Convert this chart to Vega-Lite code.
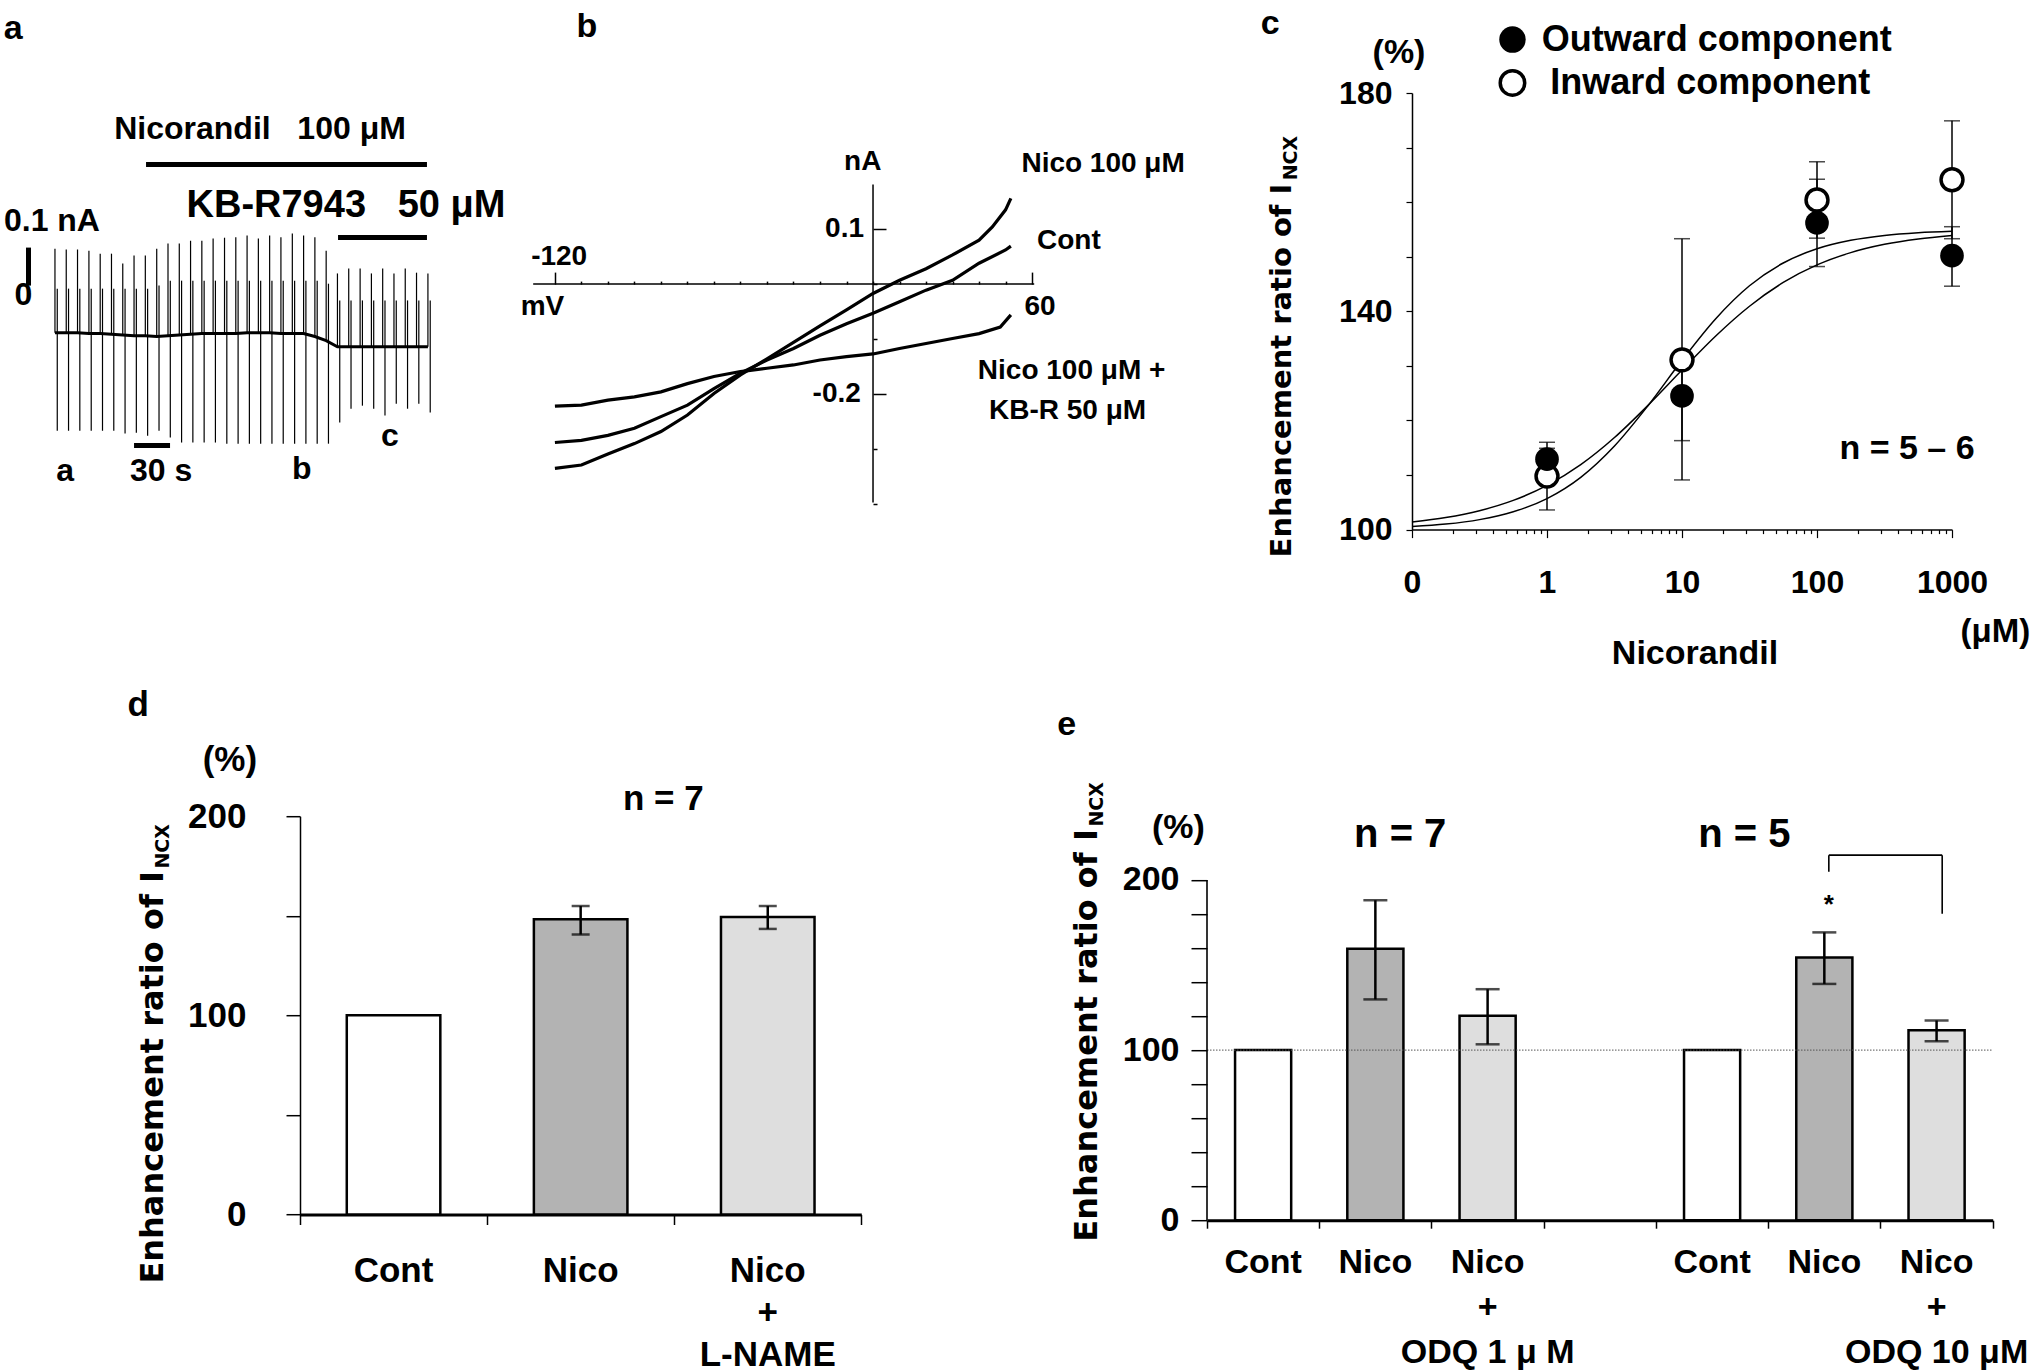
{
"$schema": "https://vega.github.io/schema/vega-lite/v6.json",
"background": "white",
"padding": {"left": 0, "top": 7, "right": 0, "bottom": 0},
"bounds": "flush",
"spacing": 723.2,
"config": {
  "view": {"stroke": null},
  "font": "Liberation Sans",
  "axis": {"labelFont": "Liberation Sans", "labelFontWeight": "bold", "labelColor": "black", "domainColor": "black", "tickColor": "black", "grid": false, "labelOverlap": false, "labelFlush": false, "labelBound": false, "labelLimit": 0},
  "text": {"font": "Liberation Sans", "fontWeight": "bold", "color": "black"}
},
"datasets": {
  "sweeps": [
    {"t":45.8,"hi":0.097,"lo":-0.382,"base":-0.124,"mid":-0.008},
    {"t":55.2,"hi":0.095,"lo":-0.382,"base":-0.124,"mid":-0.008},
    {"t":64.6,"hi":0.095,"lo":-0.382,"base":-0.124,"mid":-0.008},
    {"t":74.1,"hi":0.092,"lo":-0.382,"base":-0.126,"mid":-0.008},
    {"t":83.5,"hi":0.084,"lo":-0.382,"base":-0.126,"mid":-0.008},
    {"t":92.9,"hi":0.084,"lo":-0.382,"base":-0.128,"mid":-0.008},
    {"t":102.3,"hi":0.058,"lo":-0.389,"base":-0.130,"mid":-0.008},
    {"t":111.7,"hi":0.079,"lo":-0.387,"base":-0.132,"mid":-0.008},
    {"t":121.1,"hi":0.079,"lo":-0.395,"base":-0.132,"mid":-0.008},
    {"t":130.6,"hi":0.097,"lo":-0.382,"base":-0.134,"mid":0.0},
    {"t":140.0,"hi":0.111,"lo":-0.400,"base":-0.132,"mid":0.013},
    {"t":149.4,"hi":0.111,"lo":-0.413,"base":-0.130,"mid":0.013},
    {"t":158.8,"hi":0.118,"lo":-0.413,"base":-0.128,"mid":0.013},
    {"t":168.2,"hi":0.118,"lo":-0.413,"base":-0.126,"mid":0.013},
    {"t":177.6,"hi":0.124,"lo":-0.413,"base":-0.126,"mid":0.013},
    {"t":187.1,"hi":0.126,"lo":-0.416,"base":-0.126,"mid":0.013},
    {"t":196.5,"hi":0.127,"lo":-0.416,"base":-0.126,"mid":0.013},
    {"t":205.9,"hi":0.132,"lo":-0.416,"base":-0.124,"mid":0.013},
    {"t":215.3,"hi":0.124,"lo":-0.416,"base":-0.124,"mid":0.013},
    {"t":224.7,"hi":0.132,"lo":-0.416,"base":-0.124,"mid":0.013},
    {"t":234.1,"hi":0.127,"lo":-0.416,"base":-0.126,"mid":0.013},
    {"t":243.6,"hi":0.137,"lo":-0.416,"base":-0.126,"mid":0.013},
    {"t":253.0,"hi":0.132,"lo":-0.416,"base":-0.126,"mid":0.013},
    {"t":262.4,"hi":0.127,"lo":-0.416,"base":-0.134,"mid":0.013},
    {"t":271.8,"hi":0.092,"lo":-0.416,"base":-0.145,"mid":0.005},
    {"t":281.2,"hi":0.032,"lo":-0.360,"base":-0.161,"mid":-0.039},
    {"t":290.6,"hi":0.045,"lo":-0.324,"base":-0.161,"mid":-0.039},
    {"t":300.1,"hi":0.045,"lo":-0.316,"base":-0.161,"mid":-0.039},
    {"t":309.5,"hi":0.032,"lo":-0.324,"base":-0.161,"mid":-0.039},
    {"t":318.9,"hi":0.045,"lo":-0.342,"base":-0.161,"mid":-0.039},
    {"t":328.3,"hi":0.032,"lo":-0.311,"base":-0.161,"mid":-0.039},
    {"t":337.7,"hi":0.045,"lo":-0.324,"base":-0.161,"mid":-0.039},
    {"t":347.1,"hi":0.034,"lo":-0.311,"base":-0.161,"mid":-0.039},
    {"t":356.6,"hi":0.032,"lo":-0.334,"base":-0.161,"mid":-0.039}
  ],
  "iv": [
    {"s":"Nico","mV":-120,"nA":-0.335},{"s":"Nico","mV":-110,"nA":-0.329},{"s":"Nico","mV":-100,"nA":-0.309},{"s":"Nico","mV":-90,"nA":-0.290},{"s":"Nico","mV":-80,"nA":-0.268},{"s":"Nico","mV":-70,"nA":-0.238},{"s":"Nico","mV":-60,"nA":-0.199},{"s":"Nico","mV":-50,"nA":-0.165},{"s":"Nico","mV":-40,"nA":-0.136},{"s":"Nico","mV":-30,"nA":-0.106},{"s":"Nico","mV":-20,"nA":-0.076},{"s":"Nico","mV":-10,"nA":-0.047},{"s":"Nico","mV":0,"nA":-0.017},{"s":"Nico","mV":10,"nA":0.007},{"s":"Nico","mV":20,"nA":0.028},{"s":"Nico","mV":30,"nA":0.053},{"s":"Nico","mV":40,"nA":0.080},{"s":"Nico","mV":45,"nA":0.104},{"s":"Nico","mV":50,"nA":0.135},{"s":"Nico","mV":52,"nA":0.156},
    {"s":"Cont","mV":-120,"nA":-0.288},{"s":"Cont","mV":-110,"nA":-0.284},{"s":"Cont","mV":-100,"nA":-0.275},{"s":"Cont","mV":-90,"nA":-0.262},{"s":"Cont","mV":-80,"nA":-0.241},{"s":"Cont","mV":-70,"nA":-0.220},{"s":"Cont","mV":-60,"nA":-0.190},{"s":"Cont","mV":-50,"nA":-0.162},{"s":"Cont","mV":-40,"nA":-0.138},{"s":"Cont","mV":-30,"nA":-0.117},{"s":"Cont","mV":-20,"nA":-0.093},{"s":"Cont","mV":-10,"nA":-0.072},{"s":"Cont","mV":0,"nA":-0.053},{"s":"Cont","mV":10,"nA":-0.032},{"s":"Cont","mV":20,"nA":-0.011},{"s":"Cont","mV":30,"nA":0.007},{"s":"Cont","mV":40,"nA":0.038},{"s":"Cont","mV":50,"nA":0.062},{"s":"Cont","mV":52,"nA":0.069},
    {"s":"KBR","mV":-120,"nA":-0.222},{"s":"KBR","mV":-110,"nA":-0.220},{"s":"KBR","mV":-100,"nA":-0.211},{"s":"KBR","mV":-90,"nA":-0.205},{"s":"KBR","mV":-80,"nA":-0.196},{"s":"KBR","mV":-70,"nA":-0.181},{"s":"KBR","mV":-60,"nA":-0.168},{"s":"KBR","mV":-50,"nA":-0.159},{"s":"KBR","mV":-40,"nA":-0.153},{"s":"KBR","mV":-30,"nA":-0.147},{"s":"KBR","mV":-20,"nA":-0.138},{"s":"KBR","mV":-10,"nA":-0.132},{"s":"KBR","mV":0,"nA":-0.127},{"s":"KBR","mV":10,"nA":-0.117},{"s":"KBR","mV":20,"nA":-0.108},{"s":"KBR","mV":30,"nA":-0.099},{"s":"KBR","mV":40,"nA":-0.090},{"s":"KBR","mV":48,"nA":-0.078},{"s":"KBR","mV":52,"nA":-0.056}
  ],
  "fits": [
    {"fit":"A","conc":0.1,"v":100.56},{"fit":"A","conc":0.1778,"v":101.01},{"fit":"A","conc":0.3162,"v":101.83},{"fit":"A","conc":0.5623,"v":103.26},{"fit":"A","conc":1,"v":105.68},{"fit":"A","conc":1.778,"v":109.58},{"fit":"A","conc":3.162,"v":115.32},{"fit":"A","conc":5.623,"v":122.76},{"fit":"A","conc":10,"v":131.02},{"fit":"A","conc":17.78,"v":138.65},{"fit":"A","conc":31.62,"v":144.68},{"fit":"A","conc":56.23,"v":148.85},{"fit":"A","conc":100,"v":151.45},{"fit":"A","conc":177.8,"v":153.0},{"fit":"A","conc":316.2,"v":153.89},{"fit":"A","conc":562.3,"v":154.39},{"fit":"A","conc":1000,"v":154.66},
    {"fit":"B","conc":0.1,"v":101.41},{"fit":"B","conc":0.1778,"v":102.22},{"fit":"B","conc":0.3162,"v":103.47},{"fit":"B","conc":0.5623,"v":105.35},{"fit":"B","conc":1,"v":108.09},{"fit":"B","conc":1.778,"v":111.9},{"fit":"B","conc":3.162,"v":116.87},{"fit":"B","conc":5.623,"v":122.81},{"fit":"B","conc":10,"v":129.24},{"fit":"B","conc":17.78,"v":135.48},{"fit":"B","conc":31.62,"v":140.93},{"fit":"B","conc":56.23,"v":145.28},{"fit":"B","conc":100,"v":148.5},{"fit":"B","conc":177.8,"v":150.75},{"fit":"B","conc":316.2,"v":152.27},{"fit":"B","conc":562.3,"v":153.26},{"fit":"B","conc":1000,"v":153.9}
  ],
  "cpts": [
    {"series":"Outward","conc":1,"v":112.9,"lo":110.9,"hi":114.9},
    {"series":"Outward","conc":10,"v":124.5,"lo":116.3,"hi":132.7},
    {"series":"Outward","conc":100,"v":156.2,"lo":148.2,"hi":164.2},
    {"series":"Outward","conc":1000,"v":150.2,"lo":144.6,"hi":155.5},
    {"series":"Inward","conc":1,"v":109.8,"lo":103.6,"hi":116.0},
    {"series":"Inward","conc":10,"v":131.1,"lo":109.1,"hi":153.3},
    {"series":"Inward","conc":100,"v":160.4,"lo":153.4,"hi":167.4},
    {"series":"Inward","conc":1000,"v":164.1,"lo":153.3,"hi":174.9}
  ],
  "dbars": [
    {"cat":"Cont","kind":"Cont","v":100,"lo":100,"hi":100},
    {"cat":"Nico","kind":"Nico","v":148.3,"lo":140.6,"hi":154.9},
    {"cat":"Nico/+/L-NAME","kind":"Nico+","v":149.4,"lo":143.4,"hi":154.9}
  ],
  "ebars": [
    {"cat":"Cont#1","kind":"Cont","v":100,"lo":100,"hi":100},
    {"cat":"Nico#1","kind":"Nico","v":159.6,"lo":129.8,"hi":188.1},
    {"cat":"Nico/+/ODQ 1 μ M#1","kind":"Nico+","v":120.2,"lo":103.4,"hi":135.8},
    {"cat":"Cont#2","kind":"Cont","v":100,"lo":100,"hi":100},
    {"cat":"Nico#2","kind":"Nico","v":154.4,"lo":138.9,"hi":169.2},
    {"cat":"Nico/+/ODQ 10 μM#2","kind":"Nico+","v":111.7,"lo":105.2,"hi":117.4}
  ]
},
"vconcat": [
{
 "hconcat": [
  {
   "width": 520, "height": 436.6,
   "layer": [
    {"data": {"name": "sweeps"}, "mark": {"type": "rule", "color": "#000000", "strokeWidth": 1.2},
     "encoding": {
       "x": {"field": "t", "type": "quantitative", "scale": {"domain": [0, 433.33], "nice": false, "zero": false}, "axis": null},
       "y": {"field": "hi", "type": "quantitative", "scale": {"domain": [-0.6421, 0.5068], "nice": false, "zero": false}, "axis": null},
       "y2": {"field": "base"}}},
    {"data": {"name": "sweeps"}, "mark": {"type": "rule", "color": "#000000", "strokeWidth": 1.2, "xOffset": 2.3},
     "encoding": {
       "x": {"field": "t", "type": "quantitative", "scale": {"domain": [0, 433.33], "nice": false, "zero": false}, "axis": null},
       "y": {"field": "mid", "type": "quantitative", "scale": {"domain": [-0.6421, 0.5068], "nice": false, "zero": false}, "axis": null},
       "y2": {"field": "lo"}}},
    {"data": {"name": "sweeps"}, "mark": {"type": "line", "color": "black", "strokeWidth": 3},
     "encoding": {
       "x": {"field": "t", "type": "quantitative", "scale": {"domain": [0, 433.33], "nice": false, "zero": false}, "axis": null},
       "y": {"field": "base", "type": "quantitative", "scale": {"domain": [-0.6421, 0.5068], "nice": false, "zero": false}, "axis": null}}},
    {"data": {"values": [
       {"what":"Nicorandil 100 μM","t1":121.7,"t2":355.8,"v":0.3184},
       {"what":"KB-R7943 50 μM","t1":281.7,"t2":355.8,"v":0.1263},
       {"what":"30 s","t1":111.7,"t2":141.7,"v":-0.421}]},
     "mark": {"type": "rule", "color": "black", "strokeWidth": 5},
     "encoding": {
       "x": {"field": "t1", "type": "quantitative", "scale": {"domain": [0, 433.33], "nice": false, "zero": false}, "axis": null},
       "x2": {"field": "t2"},
       "y": {"field": "v", "type": "quantitative", "scale": {"domain": [-0.6421, 0.5068], "nice": false, "zero": false}, "axis": null}}},
    {"data": {"values": [{"what":"0.1 nA","t":23.75,"v1":0,"v2":0.1}]},
     "mark": {"type": "rule", "color": "black", "strokeWidth": 5},
     "encoding": {
       "x": {"field": "t", "type": "quantitative", "scale": {"domain": [0, 433.33], "nice": false, "zero": false}, "axis": null},
       "y": {"field": "v1", "type": "quantitative", "scale": {"domain": [-0.6421, 0.5068], "nice": false, "zero": false}, "axis": null},
       "y2": {"field": "v2"}}},
    {"data": {"values": [{"t":11.1,"v":0.6755,"label":"a"}]},
     "mark": {"type": "text", "fontSize": 34, "align": "center", "baseline": "middle"},
     "encoding": {
       "x": {"field": "t", "type": "quantitative", "scale": {"domain": [0, 433.33], "nice": false, "zero": false}, "axis": null},
       "y": {"field": "v", "type": "quantitative", "scale": {"domain": [-0.6421, 0.5068], "nice": false, "zero": false}, "axis": null},
       "text": {"field": "label"}}},
    {"data": {"values": [
       {"t":216.7,"v":0.4132,"label":"Nicorandil\u00a0\u00a0\u00a0100 μM"},
       {"t":43.3,"v":0.171,"label":"0.1 nA"},
       {"t":19.4,"v":-0.026,"label":"0"},
       {"t":54.2,"v":-0.487,"label":"a"},
       {"t":134.2,"v":-0.487,"label":"30 s"},
       {"t":251.4,"v":-0.482,"label":"b"},
       {"t":325,"v":-0.395,"label":"c"}]},
     "mark": {"type": "text", "fontSize": 32, "align": "center", "baseline": "middle"},
     "encoding": {
       "x": {"field": "t", "type": "quantitative", "scale": {"domain": [0, 433.33], "nice": false, "zero": false}, "axis": null},
       "y": {"field": "v", "type": "quantitative", "scale": {"domain": [-0.6421, 0.5068], "nice": false, "zero": false}, "axis": null},
       "text": {"field": "label"}}},
    {"data": {"values": [{"t":288.3,"v":0.2087,"label":"KB-R7943\u00a0\u00a0\u00a050 μM"}]},
     "mark": {"type": "text", "fontSize": 38, "align": "center", "baseline": "middle"},
     "encoding": {
       "x": {"field": "t", "type": "quantitative", "scale": {"domain": [0, 433.33], "nice": false, "zero": false}, "axis": null},
       "y": {"field": "v", "type": "quantitative", "scale": {"domain": [-0.6421, 0.5068], "nice": false, "zero": false}, "axis": null},
       "text": {"field": "label"}}}
   ]
  },
  {
   "width": 872, "height": 436.6,
   "layer": [
    {"data": {"name": "iv"}, "mark": {"type": "line", "color": "black", "strokeWidth": 3.2},
     "encoding": {
       "x": {"field": "mV", "type": "quantitative", "scale": {"domain": [-129.4, 199.55], "nice": false, "zero": false},
             "axis": {"orient": "top", "offset": -191.1, "values": [-120,-110,-100,-90,-80,-70,-60,-50,-40,-30,-20,-10,0,10,20,30,40,50,60], "labels": false, "domain": false, "title": null, "tickWidth": 1.5,
                      "tickSize": {"condition": {"test": "datum.value == -120 || datum.value == 60", "value": 12}, "value": 3}}},
       "y": {"field": "nA", "type": "quantitative", "scale": {"domain": [-0.44636, 0.34745], "nice": false, "zero": false},
             "axis": {"orient": "right", "offset": -529, "values": [-0.4,-0.35,-0.3,-0.25,-0.2,-0.15,-0.1,-0.05,0,0.05,0.1,0.15], "labels": false, "domain": false, "title": null, "tickWidth": 1.5,
                      "tickSize": {"condition": {"test": "datum.value == 0.1 || datum.value == -0.2", "value": 13}, "value": 4}}},
       "detail": {"field": "s", "type": "nominal"}}},
    {"data": {"values": [{"x1":-128.2,"x2":60.8,"y1":0,"y2":0},{"x1":0,"x2":0,"y1":-0.397,"y2":0.181}]},
     "mark": {"type": "rule", "color": "black", "strokeWidth": 1.5},
     "encoding": {
       "x": {"field": "x1", "type": "quantitative", "scale": {"domain": [-129.4, 199.55], "nice": false, "zero": false}},
       "x2": {"field": "x2"},
       "y": {"field": "y1", "type": "quantitative", "scale": {"domain": [-0.44636, 0.34745], "nice": false, "zero": false}},
       "y2": {"field": "y2"}}},
    {"data": {"values": [{"mV":-107.9,"nA":0.467,"label":"b"}]},
     "mark": {"type": "text", "fontSize": 34, "align": "center", "baseline": "middle"},
     "encoding": {
       "x": {"field": "mV", "type": "quantitative", "scale": {"domain": [-129.4, 199.55], "nice": false, "zero": false}},
       "y": {"field": "nA", "type": "quantitative", "scale": {"domain": [-0.44636, 0.34745], "nice": false, "zero": false}},
       "text": {"field": "label"}}},
    {"data": {"values": [
       {"mV":-3.9,"nA":0.2215,"label":"nA"},
       {"mV":-118.4,"nA":0.0487,"label":"-120"},
       {"mV":-124.7,"nA":-0.0422,"label":"mV"},
       {"mV":63.0,"nA":-0.0422,"label":"60"},
       {"mV":86.8,"nA":0.2185,"label":"Nico 100 μM"},
       {"mV":73.9,"nA":0.0791,"label":"Cont"},
       {"mV":74.9,"nA":-0.1573,"label":"Nico 100 μM +"},
       {"mV":73.4,"nA":-0.230,"label":"KB-R 50 μM"}]},
     "mark": {"type": "text", "fontSize": 28, "align": "center", "baseline": "middle"},
     "encoding": {
       "x": {"field": "mV", "type": "quantitative", "scale": {"domain": [-129.4, 199.55], "nice": false, "zero": false}},
       "y": {"field": "nA", "type": "quantitative", "scale": {"domain": [-0.44636, 0.34745], "nice": false, "zero": false}},
       "text": {"field": "label"}}},
    {"data": {"values": [
       {"mV":-3.4,"nA":0.1,"label":"0.1"},
       {"mV":-4.6,"nA":-0.2,"label":"-0.2"}]},
     "mark": {"type": "text", "fontSize": 28, "align": "right", "baseline": "middle"},
     "encoding": {
       "x": {"field": "mV", "type": "quantitative", "scale": {"domain": [-129.4, 199.55], "nice": false, "zero": false}},
       "y": {"field": "nA", "type": "quantitative", "scale": {"domain": [-0.44636, 0.34745], "nice": false, "zero": false}},
       "text": {"field": "label"}}}
   ]
  },
  {
   "width": 540, "height": 436.6,
   "layer": [
    {"data": {"name": "fits"}, "mark": {"type": "line", "color": "black", "strokeWidth": 1.5, "interpolate": "monotone"},
     "encoding": {
       "x": {"field": "conc", "type": "quantitative", "scale": {"type": "log", "domain": [0.1, 1000], "nice": false},
             "axis": {"orient": "bottom", "title": null, "values": [0.1,0.2,0.3,0.4,0.5,0.6,0.7,0.8,0.9,1,2,3,4,5,6,7,8,9,10,20,30,40,50,60,70,80,90,100,200,300,400,500,600,700,800,900,1000],
                      "labelExpr": "datum.value == 0.1 ? '0' : ((datum.value == 1 || datum.value == 10 || datum.value == 100 || datum.value == 1000) ? format(datum.value, 'd') : '')",
                      "labelFontSize": 32, "labelPadding": 30, "domainWidth": 1.5, "tickWidth": 1.2,
                      "tickSize": {"condition": {"test": "datum.value == 0.1 || datum.value == 1 || datum.value == 10 || datum.value == 100 || datum.value == 1000", "value": 8}, "value": 4}}},
       "y": {"field": "v", "type": "quantitative", "scale": {"domain": [100, 180], "nice": false, "zero": false},
             "axis": {"title": null, "values": [100,110,120,130,140,150,160,170,180],
                      "labelExpr": "(datum.value == 100 || datum.value == 140 || datum.value == 180) ? datum.label : ''",
                      "labelFontSize": 32, "labelPadding": 14, "tickSize": 6, "tickWidth": 1.2, "domainWidth": 1.5}},
       "detail": {"field": "fit", "type": "nominal"}}},
    {"data": {"name": "cpts"}, "mark": {"type": "rule", "color": "black", "strokeWidth": 1.5},
     "encoding": {
       "x": {"field": "conc", "type": "quantitative", "scale": {"type": "log", "domain": [0.1, 1000], "nice": false}},
       "y": {"field": "lo", "type": "quantitative", "scale": {"domain": [100, 180], "nice": false, "zero": false}},
       "y2": {"field": "hi"}}},
    {"data": {"name": "cpts"}, "mark": {"type": "tick", "orient": "horizontal", "color": "black", "size": 16, "thickness": 1.5},
     "encoding": {
       "x": {"field": "conc", "type": "quantitative", "scale": {"type": "log", "domain": [0.1, 1000], "nice": false}},
       "y": {"field": "hi", "type": "quantitative", "scale": {"domain": [100, 180], "nice": false, "zero": false}}}},
    {"data": {"name": "cpts"}, "mark": {"type": "tick", "orient": "horizontal", "color": "black", "size": 16, "thickness": 1.5},
     "encoding": {
       "x": {"field": "conc", "type": "quantitative", "scale": {"type": "log", "domain": [0.1, 1000], "nice": false}},
       "y": {"field": "lo", "type": "quantitative", "scale": {"domain": [100, 180], "nice": false, "zero": false}}}},
    {"data": {"name": "cpts"}, "transform": [{"filter": "datum.series == 'Inward'"}],
     "mark": {"type": "point", "shape": "circle", "filled": true, "fill": "white", "stroke": "black", "strokeWidth": 3.5, "size": 480, "opacity": 1},
     "encoding": {
       "x": {"field": "conc", "type": "quantitative", "scale": {"type": "log", "domain": [0.1, 1000], "nice": false}},
       "y": {"field": "v", "type": "quantitative", "scale": {"domain": [100, 180], "nice": false, "zero": false}}}},
    {"data": {"name": "cpts"}, "transform": [{"filter": "datum.series == 'Outward'"}],
     "mark": {"type": "point", "shape": "circle", "filled": true, "fill": "black", "strokeWidth": 0, "size": 560, "opacity": 1},
     "encoding": {
       "x": {"field": "conc", "type": "quantitative", "scale": {"type": "log", "domain": [0.1, 1000], "nice": false}},
       "y": {"field": "v", "type": "quantitative", "scale": {"domain": [100, 180], "nice": false, "zero": false}}}},
    {"data": {"values": [{"series":"Outward","conc":0.555,"v":189.79}]},
     "mark": {"type": "point", "shape": "circle", "filled": true, "fill": "black", "strokeWidth": 0, "size": 700, "opacity": 1},
     "encoding": {
       "x": {"field": "conc", "type": "quantitative", "scale": {"type": "log", "domain": [0.1, 1000], "nice": false}},
       "y": {"field": "v", "type": "quantitative", "scale": {"domain": [100, 180], "nice": false, "zero": false}}}},
    {"data": {"values": [{"series":"Inward","conc":0.555,"v":181.84}]},
     "mark": {"type": "point", "shape": "circle", "filled": true, "fill": "white", "stroke": "black", "strokeWidth": 3.5, "size": 600, "opacity": 1},
     "encoding": {
       "x": {"field": "conc", "type": "quantitative", "scale": {"type": "log", "domain": [0.1, 1000], "nice": false}},
       "y": {"field": "v", "type": "quantitative", "scale": {"domain": [100, 180], "nice": false, "zero": false}}}},
    {"data": {"values": [
       {"conc":0.9136,"v":189.79,"label":"Outward component"},
       {"conc":1.058,"v":181.84,"label":"Inward component"}]},
     "mark": {"type": "text", "fontSize": 36, "align": "left", "baseline": "middle"},
     "encoding": {
       "x": {"field": "conc", "type": "quantitative", "scale": {"type": "log", "domain": [0.1, 1000], "nice": false}},
       "y": {"field": "v", "type": "quantitative", "scale": {"domain": [100, 180], "nice": false, "zero": false}},
       "text": {"field": "label"}}},
    {"data": {"values": [
       {"conc":0.00892,"v":192.56,"label":"c"},
       {"conc":0.0801,"v":187.41,"label":"(%)"},
       {"conc":464.5,"v":114.7,"label":"n = 5 – 6"},
       {"conc":12.48,"v":77.28,"label":"Nicorandil"}]},
     "mark": {"type": "text", "fontSize": 34, "align": "center", "baseline": "middle"},
     "encoding": {
       "x": {"field": "conc", "type": "quantitative", "scale": {"type": "log", "domain": [0.1, 1000], "nice": false}},
       "y": {"field": "v", "type": "quantitative", "scale": {"domain": [100, 180], "nice": false, "zero": false}},
       "text": {"field": "label"}}},
    {"data": {"values": [{"conc":3800,"v":81.18,"label":"(μM)"}]},
     "mark": {"type": "text", "fontSize": 33, "align": "right", "baseline": "middle"},
     "encoding": {
       "x": {"field": "conc", "type": "quantitative", "scale": {"type": "log", "domain": [0.1, 1000], "nice": false}},
       "y": {"field": "v", "type": "quantitative", "scale": {"domain": [100, 180], "nice": false, "zero": false}},
       "text": {"field": "label"}}},
    {"data": {"values": [{"conc":0.01083,"v":94.9,"label":"Enhancement ratio of I"}]},
     "mark": {"type": "text", "font": "DejaVu Sans", "fontSize": 29, "align": "left", "baseline": "middle", "angle": 270},
     "encoding": {
       "x": {"field": "conc", "type": "quantitative", "scale": {"type": "log", "domain": [0.1, 1000], "nice": false}},
       "y": {"field": "v", "type": "quantitative", "scale": {"domain": [100, 180], "nice": false, "zero": false}},
       "text": {"field": "label"}}},
    {"data": {"values": [{"conc":0.0128,"v":164.0,"label":"NCX"}]},
     "mark": {"type": "text", "font": "DejaVu Sans", "fontSize": 19, "align": "left", "baseline": "middle", "angle": 270},
     "encoding": {
       "x": {"field": "conc", "type": "quantitative", "scale": {"type": "log", "domain": [0.1, 1000], "nice": false}},
       "y": {"field": "v", "type": "quantitative", "scale": {"domain": [100, 180], "nice": false, "zero": false}},
       "text": {"field": "label"}}}
   ]
  }
 ],
 "spacing": 10,
 "bounds": "flush"
},
{
 "hconcat": [
  {"width": 289.7, "height": 10, "data": {"values": []}, "mark": {"type": "point", "opacity": 0}},
  {
   "width": 561.3, "height": 398.3,
   "resolve": {"scale": {"x": "independent"}, "axis": {"x": "independent"}},
   "layer": [
    {"layer": [
      {"data": {"name": "dbars"}, "mark": {"type": "bar", "stroke": "black", "strokeWidth": 2.5},
       "encoding": {
         "x": {"field": "cat", "type": "nominal", "sort": null, "scale": {"domain": ["Cont","Nico","Nico/+/L-NAME"], "paddingInner": 0.5, "paddingOuter": 0.25},
               "axis": {"orient": "bottom", "title": null, "ticks": false, "domainWidth": 3, "labelAngle": 0, "labelExpr": "split(datum.value, '/')", "labelFontSize": 35, "labelLineHeight": 42, "labelPadding": 39, "labelBaseline": "top"}},
         "y": {"field": "v", "type": "quantitative", "scale": {"domain": [0, 200], "nice": false, "zero": false},
               "axis": {"title": null, "values": [0,50,100,150,200], "labelExpr": "(datum.value == 0 || datum.value == 100 || datum.value == 200) ? datum.label : ''", "labelFontSize": 35, "labelPadding": 40, "tickSize": 14, "tickWidth": 1.5, "domainWidth": 1.5}},
         "fill": {"field": "kind", "type": "nominal", "scale": {"domain": ["Cont","Nico","Nico+"], "range": ["#ffffff","#b3b3b3","#dedede"]}, "legend": null}}},
      {"data": {"name": "dbars"}, "transform": [{"filter": "datum.hi > datum.lo"}], "mark": {"type": "rule", "color": "black", "strokeWidth": 2.5},
       "encoding": {
         "x": {"field": "cat", "type": "nominal", "sort": null, "scale": {"domain": ["Cont","Nico","Nico/+/L-NAME"], "paddingInner": 0.5, "paddingOuter": 0.25}},
         "y": {"field": "lo", "type": "quantitative", "scale": {"domain": [0, 200], "nice": false, "zero": false}},
         "y2": {"field": "hi"}}},
      {"data": {"name": "dbars"}, "transform": [{"filter": "datum.hi > datum.lo"}], "mark": {"type": "tick", "orient": "horizontal", "color": "black", "size": 18, "thickness": 2.5},
       "encoding": {
         "x": {"field": "cat", "type": "nominal", "sort": null, "scale": {"domain": ["Cont","Nico","Nico/+/L-NAME"], "paddingInner": 0.5, "paddingOuter": 0.25}},
         "y": {"field": "hi", "type": "quantitative", "scale": {"domain": [0, 200], "nice": false, "zero": false}}}},
      {"data": {"name": "dbars"}, "transform": [{"filter": "datum.hi > datum.lo"}], "mark": {"type": "tick", "orient": "horizontal", "color": "black", "size": 18, "thickness": 2.5},
       "encoding": {
         "x": {"field": "cat", "type": "nominal", "sort": null, "scale": {"domain": ["Cont","Nico","Nico/+/L-NAME"], "paddingInner": 0.5, "paddingOuter": 0.25}},
         "y": {"field": "lo", "type": "quantitative", "scale": {"domain": [0, 200], "nice": false, "zero": false}}}}
    ]},
    {"layer": [
      {"data": {"values": [
         {"u":-0.8653,"v":256.0,"label":"d"},
         {"u":-0.3747,"v":228.4,"label":"(%)"},
         {"u":1.942,"v":208.4,"label":"n = 7"}]},
       "mark": {"type": "text", "fontSize": 35, "align": "center", "baseline": "middle"},
       "encoding": {
         "x": {"field": "u", "type": "quantitative", "scale": {"domain": [0, 3], "nice": false, "zero": false},
               "axis": {"orient": "bottom", "title": null, "values": [0,1,2,3], "labels": false, "domain": false, "tickSize": 10, "tickWidth": 1.5}},
         "y": {"field": "v", "type": "quantitative", "scale": {"domain": [0, 200], "nice": false, "zero": false}},
         "text": {"field": "label"}}},
      {"data": {"values": [{"u":-0.784,"v":-34.7,"label":"Enhancement ratio of I"}]},
       "mark": {"type": "text", "font": "DejaVu Sans", "fontSize": 32, "align": "left", "baseline": "middle", "angle": 270},
       "encoding": {
         "x": {"field": "u", "type": "quantitative", "scale": {"domain": [0, 3], "nice": false, "zero": false}},
         "y": {"field": "v", "type": "quantitative", "scale": {"domain": [0, 200], "nice": false, "zero": false}},
         "text": {"field": "label"}}},
      {"data": {"values": [{"u":-0.7306,"v":173.7,"label":"NCX"}]},
       "mark": {"type": "text", "font": "DejaVu Sans", "fontSize": 19, "align": "left", "baseline": "middle", "angle": 270},
       "encoding": {
         "x": {"field": "u", "type": "quantitative", "scale": {"domain": [0, 3], "nice": false, "zero": false}},
         "y": {"field": "v", "type": "quantitative", "scale": {"domain": [0, 200], "nice": false, "zero": false}},
         "text": {"field": "label"}}}
    ]}
   ]
  },
  {"width": 324.6, "height": 10, "data": {"values": []}, "mark": {"type": "point", "opacity": 0}},
  {
   "width": 785.7, "height": 404,
   "resolve": {"scale": {"x": "independent"}, "axis": {"x": "independent"}},
   "layer": [
    {"layer": [
      {"data": {"name": "ebars"}, "mark": {"type": "bar", "stroke": "black", "strokeWidth": 2.5},
       "encoding": {
         "x": {"field": "cat", "type": "nominal", "sort": null, "scale": {"domain": ["Cont#1","Nico#1","Nico/+/ODQ 1 μ M#1","#3","Cont#2","Nico#2","Nico/+/ODQ 10 μM#2"], "paddingInner": 0.5, "paddingOuter": 0.25},
               "axis": {"orient": "bottom", "title": null, "ticks": false, "domainWidth": 3, "labelAngle": 0, "labelExpr": "split(split(datum.value, '#')[0], '/')", "labelFontSize": 34, "labelLineHeight": 45, "labelPadding": 25, "labelBaseline": "top"}},
         "y": {"field": "v", "type": "quantitative", "scale": {"domain": [0, 237.5], "nice": false, "zero": false},
               "axis": {"title": null, "values": [0,20,40,60,80,100,120,140,160,180,200], "labelExpr": "(datum.value == 0 || datum.value == 100 || datum.value == 200) ? datum.label : ''", "labelFontSize": 34, "labelPadding": 12, "tickSize": 16, "tickWidth": 1.5, "domain": false}},
         "fill": {"field": "kind", "type": "nominal", "scale": {"domain": ["Cont","Nico","Nico+"], "range": ["#ffffff","#b3b3b3","#dedede"]}, "legend": null}}},
      {"data": {"name": "ebars"}, "transform": [{"filter": "datum.hi > datum.lo"}], "mark": {"type": "rule", "color": "black", "strokeWidth": 2.5},
       "encoding": {
         "x": {"field": "cat", "type": "nominal", "sort": null, "scale": {"domain": ["Cont#1","Nico#1","Nico/+/ODQ 1 μ M#1","#3","Cont#2","Nico#2","Nico/+/ODQ 10 μM#2"], "paddingInner": 0.5, "paddingOuter": 0.25}},
         "y": {"field": "lo", "type": "quantitative", "scale": {"domain": [0, 237.5], "nice": false, "zero": false}},
         "y2": {"field": "hi"}}},
      {"data": {"name": "ebars"}, "transform": [{"filter": "datum.hi > datum.lo"}], "mark": {"type": "tick", "orient": "horizontal", "color": "black", "size": 24, "thickness": 2.5},
       "encoding": {
         "x": {"field": "cat", "type": "nominal", "sort": null, "scale": {"domain": ["Cont#1","Nico#1","Nico/+/ODQ 1 μ M#1","#3","Cont#2","Nico#2","Nico/+/ODQ 10 μM#2"], "paddingInner": 0.5, "paddingOuter": 0.25}},
         "y": {"field": "hi", "type": "quantitative", "scale": {"domain": [0, 237.5], "nice": false, "zero": false}}}},
      {"data": {"name": "ebars"}, "transform": [{"filter": "datum.hi > datum.lo"}], "mark": {"type": "tick", "orient": "horizontal", "color": "black", "size": 24, "thickness": 2.5},
       "encoding": {
         "x": {"field": "cat", "type": "nominal", "sort": null, "scale": {"domain": ["Cont#1","Nico#1","Nico/+/ODQ 1 μ M#1","#3","Cont#2","Nico#2","Nico/+/ODQ 10 μM#2"], "paddingInner": 0.5, "paddingOuter": 0.25}},
         "y": {"field": "lo", "type": "quantitative", "scale": {"domain": [0, 237.5], "nice": false, "zero": false}}}}
    ]},
    {"layer": [
      {"data": {"values": [{"u1":0,"u2":7,"v":100}]},
       "mark": {"type": "rule", "color": "#555555", "strokeWidth": 1, "strokeDash": [1.5, 1.5]},
       "encoding": {
         "x": {"field": "u1", "type": "quantitative", "scale": {"domain": [0, 7], "nice": false, "zero": false},
               "axis": {"orient": "bottom", "title": null, "values": [0,1,2,3,4,5,6,7], "labels": false, "domain": false, "tickSize": 8, "tickWidth": 1.5}},
         "x2": {"field": "u2"},
         "y": {"field": "v", "type": "quantitative", "scale": {"domain": [0, 237.5], "nice": false, "zero": false}}}},
      {"data": {"values": [
         {"what":"axis","u1":0,"u2":0,"v1":0,"v2":200},
         {"what":"bracket","u1":5.54,"u2":6.55,"v1":214.6,"v2":214.6},
         {"what":"bracket","u1":5.54,"u2":5.54,"v1":204.8,"v2":214.6},
         {"what":"bracket","u1":6.55,"u2":6.55,"v1":180.2,"v2":214.6}]},
       "mark": {"type": "rule", "color": "black", "strokeWidth": 1.6},
       "encoding": {
         "x": {"field": "u1", "type": "quantitative", "scale": {"domain": [0, 7], "nice": false, "zero": false}},
         "x2": {"field": "u2"},
         "y": {"field": "v1", "type": "quantitative", "scale": {"domain": [0, 237.5], "nice": false, "zero": false}},
         "y2": {"field": "v2"}}},
      {"data": {"values": [
         {"u":1.7213,"v":226.7,"label":"n = 7"},
         {"u":4.788,"v":226.7,"label":"n = 5"}]},
       "mark": {"type": "text", "fontSize": 40, "align": "center", "baseline": "middle"},
       "encoding": {
         "x": {"field": "u", "type": "quantitative", "scale": {"domain": [0, 7], "nice": false, "zero": false}},
         "y": {"field": "v", "type": "quantitative", "scale": {"domain": [0, 237.5], "nice": false, "zero": false}},
         "text": {"field": "label"}}},
      {"data": {"values": [
         {"u":-1.25,"v":291.4,"label":"e"},
         {"u":-0.2548,"v":230.6,"label":"(%)"}]},
       "mark": {"type": "text", "fontSize": 34, "align": "center", "baseline": "middle"},
       "encoding": {
         "x": {"field": "u", "type": "quantitative", "scale": {"domain": [0, 7], "nice": false, "zero": false}},
         "y": {"field": "v", "type": "quantitative", "scale": {"domain": [0, 237.5], "nice": false, "zero": false}},
         "text": {"field": "label"}}},
      {"data": {"values": [{"u":5.54,"v":185.4,"label":"*"}]},
       "mark": {"type": "text", "fontSize": 26, "align": "center", "baseline": "middle"},
       "encoding": {
         "x": {"field": "u", "type": "quantitative", "scale": {"domain": [0, 7], "nice": false, "zero": false}},
         "y": {"field": "v", "type": "quantitative", "scale": {"domain": [0, 237.5], "nice": false, "zero": false}},
         "text": {"field": "label"}}},
      {"data": {"values": [{"u":-1.07,"v":-12.6,"label":"Enhancement ratio of I"}]},
       "mark": {"type": "text", "font": "DejaVu Sans", "fontSize": 32, "align": "left", "baseline": "middle", "angle": 270},
       "encoding": {
         "x": {"field": "u", "type": "quantitative", "scale": {"domain": [0, 7], "nice": false, "zero": false}},
         "y": {"field": "v", "type": "quantitative", "scale": {"domain": [0, 237.5], "nice": false, "zero": false}},
         "text": {"field": "label"}}},
      {"data": {"values": [{"u":-0.981,"v":231.4,"label":"NCX"}]},
       "mark": {"type": "text", "font": "DejaVu Sans", "fontSize": 19, "align": "left", "baseline": "middle", "angle": 270},
       "encoding": {
         "x": {"field": "u", "type": "quantitative", "scale": {"domain": [0, 7], "nice": false, "zero": false}},
         "y": {"field": "v", "type": "quantitative", "scale": {"domain": [0, 237.5], "nice": false, "zero": false}},
         "text": {"field": "label"}}}
    ]}
   ]
  }
 ],
 "spacing": 10,
 "bounds": "flush"
}
]
}
